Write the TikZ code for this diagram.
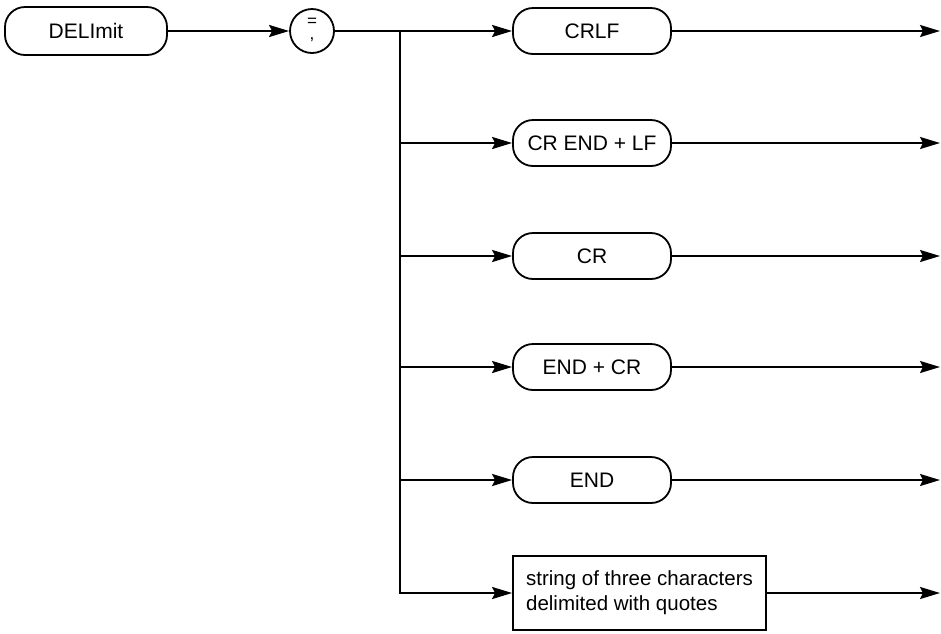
\documentclass[tikz,border=0pt]{standalone}
\usepackage{fontspec}
\setmainfont{Liberation Sans}
\usetikzlibrary{arrows.meta}
\tikzset{
  rbox/.style={draw, line width=1.8pt, rounded corners=20pt, minimum width=158pt, minimum height=46pt, inner sep=0pt, font=\fontsize{21}{25}\selectfont},
  sbox/.style={draw, line width=1.8pt, minimum width=253pt, minimum height=74pt, inner sep=0pt, align=left, font=\fontsize{20.5}{25}\selectfont},
  conn/.style={line width=2.2pt},
  arr/.style={line width=2.2pt, -{Stealth[length=20pt,width=12pt,inset=3pt]}},
  sym/.style={inner sep=0pt, font=\fontsize{17}{17}\selectfont}
}
\begin{document}
\begin{tikzpicture}[x=1pt,y=-1pt]
\useasboundingbox (0,0) rectangle (941,633);
% nodes
\node[rbox, minimum width=162pt, minimum height=48pt] (delim) at (86,31) {DELImit};
\node[draw, circle, line width=1.8pt, minimum size=44pt, inner sep=0pt] (sep) at (312,31) {};
\node[sym, anchor=base] (eq) at (312,26) {=};
\node[sym, anchor=base] (comma) at (312,39) {,};
\node[rbox] (b1) at (592,31) {CRLF};
\node[rbox] (b2) at (592,143) {CR END + LF};
\node[rbox] (b3) at (592,256) {CR};
\node[rbox] (b4) at (592,367) {END + CR};
\node[rbox] (b5) at (592,480) {END};
\node[sbox] (b6) at (639.5,593) {string of three characters\\delimited with quotes};
% junction points
\coordinate (br) at (400,31);
\coordinate (brend) at (400,593);
\coordinate (e1) at (940,31);
\coordinate (e2) at (940,143);
\coordinate (e3) at (940,256);
\coordinate (e4) at (940,367);
\coordinate (e5) at (940,480);
\coordinate (e6) at (940,593);
% connectors
\draw[arr] (delim.east) -- (sep.west);
\draw[arr] (sep.east) -- (b1.west);
\draw[conn, line cap=rect] (br) -- (brend);
\draw[arr] (br |- b2) -- (b2.west);
\draw[arr] (br |- b3) -- (b3.west);
\draw[arr] (br |- b4) -- (b4.west);
\draw[arr] (br |- b5) -- (b5.west);
\draw[arr] (brend) -- (b6.west);
\draw[arr] (b1.east) -- (e1);
\draw[arr] (b2.east) -- (e2);
\draw[arr] (b3.east) -- (e3);
\draw[arr] (b4.east) -- (e4);
\draw[arr] (b5.east) -- (e5);
\draw[arr] (b6.east) -- (e6);
\end{tikzpicture}
\end{document}
